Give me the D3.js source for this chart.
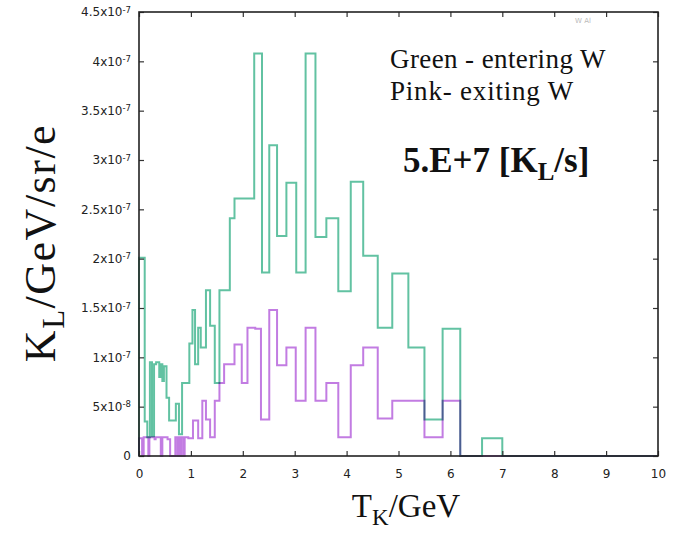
<!DOCTYPE html>
<html>
<head>
<meta charset="utf-8">
<script src="https://cdn.jsdelivr.net/npm/d3@7"></script>
<style>
  body { margin: 0; background: #fff; }
  .tick text { font-family: "DejaVu Sans", sans-serif; font-size: 12px; fill: #222; }
  .tick line { stroke: #333; stroke-width: 1.2; }
  .serif { font-family: "Liberation Serif", serif; fill: #111; }
</style>
</head>
<body>
<script>
// bin edges (GeV) and heights (x1e-7)
const greenEdges = [0, 0.11, 0.16, 0.21, 0.25, 0.29, 0.33, 0.39, 0.42, 0.45, 0.48, 0.53, 0.58, 0.71, 0.77, 0.83, 0.97, 1.03, 1.08, 1.14, 1.19, 1.29, 1.37, 1.46, 1.55, 1.75, 1.84, 2.22, 2.37, 2.51, 2.66, 2.84, 3.03, 3.21, 3.40, 3.61, 3.84, 4.08, 4.32, 4.60, 4.88, 5.19, 5.50, 5.85, 6.19, 6.61, 7.00];
const greenValues = [2.01, 0.35, 0.19, 0.95, 0.2, 0.93, 0.95, 0.80, 0.93, 0.76, 0.91, 0.59, 0.36, 0.53, 0.22, 0.74, 1.14, 1.48, 0.93, 1.30, 1.10, 1.68, 1.32, 0.74, 1.68, 2.41, 2.61, 4.08, 1.86, 3.15, 2.23, 2.77, 1.86, 4.08, 2.22, 2.41, 1.67, 2.78, 2.03, 1.30, 1.85, 1.10, 0.37, 1.29, 0, 0.18];

const pinkEdges = [0, 0.06, 0.09, 0.18, 0.2, 0.3, 0.32, 0.42, 0.45, 0.55, 0.6, 0.7, 0.74, 0.77, 0.8, 0.82, 0.86, 0.88, 0.95, 1.04, 1.14, 1.22, 1.29, 1.37, 1.46, 1.55, 1.64, 1.84, 1.98, 2.09, 2.24, 2.35, 2.51, 2.66, 2.84, 3.02, 3.21, 3.40, 3.61, 3.84, 4.08, 4.32, 4.60, 4.88, 5.50, 5.85, 6.19];
const pinkValues = [0.18, 0, 0.19, 0, 0.19, 0.17, 0.19, 0, 0.19, 0.17, 0, 0.19, 0, 0.19, 0, 0.19, 0, 0.19, 0.18, 0.36, 0.18, 0.56, 0.37, 0.19, 0.56, 0.74, 0.93, 1.13, 0.74, 1.30, 1.29, 0.37, 1.48, 0.92, 1.10, 0.56, 1.30, 0.56, 0.74, 0.19, 0.92, 1.10, 0.38, 0.56, 0.19, 0.56];

const xTicks = [0, 1, 2, 3, 4, 5, 6, 7, 8, 9, 10];
const yTicks = [0, 0.5, 1, 1.5, 2, 2.5, 3, 3.5, 4, 4.5];
const yTickMant = ["0", "5x10", "1x10", "1.5x10", "2x10", "2.5x10", "3x10", "3.5x10", "4x10", "4.5x10"];
const yTickExp = ["", "-8", "-7", "-7", "-7", "-7", "-7", "-7", "-7", "-7"];

const width = 673, height = 535;
const margin = {top: 12, right: 15, bottom: 79, left: 139};
const w = width - margin.left - margin.right;
const h = height - margin.top - margin.bottom;

const svg = d3.select("body").append("svg")
  .attr("width", width)
  .attr("height", height);

const g = svg.append("g")
  .attr("transform", `translate(${margin.left},${margin.top})`);

const xscale = d3.scaleLinear().domain([0, 10]).range([0, w]);
const yscale = d3.scaleLinear().domain([0, 4.5]).range([h, 0]);

function stepPoints(edges, values) {
  const pts = [[edges[0], 0]];
  values.forEach((v, i) => {
    pts.push([edges[i], v]);
    pts.push([edges[i + 1], v]);
  });
  pts.push([edges[edges.length - 1], 0]);
  pts.push([10, 0]);
  return pts;
}

const line = d3.line()
  .x(d => xscale(d[0]))
  .y(d => yscale(d[1]));

const plot = g.append("g").style("isolation", "isolate");

plot.append("path")
  .datum(stepPoints(greenEdges, greenValues))
  .attr("d", line)
  .attr("fill", "none")
  .attr("stroke", "#62c2a2")
  .attr("stroke-width", 2);

plot.append("path")
  .datum(stepPoints(pinkEdges, pinkValues))
  .attr("d", line)
  .attr("fill", "none")
  .attr("stroke", "#c27ce2")
  .attr("stroke-width", 2)
  .style("mix-blend-mode", "multiply");

// axes, gnuplot style: inward ticks on all four sides
g.append("g")
  .attr("transform", `translate(0,${h})`)
  .call(d3.axisBottom(xscale).tickValues(xTicks).tickSizeInner(-5).tickSizeOuter(0).tickPadding(13))
  .call(a => a.select(".domain").remove());

g.append("g")
  .call(d3.axisTop(xscale).tickValues(xTicks).tickSizeInner(-5).tickSizeOuter(0).tickFormat(""))
  .call(a => a.select(".domain").remove());

g.append("g")
  .attr("transform", `translate(${w},0)`)
  .call(d3.axisRight(yscale).tickValues(yTicks).tickSizeInner(-5).tickSizeOuter(0).tickFormat(""))
  .call(a => a.select(".domain").remove());

const yaxis = g.append("g")
  .call(d3.axisLeft(yscale).tickValues(yTicks).tickSizeInner(-5).tickSizeOuter(0).tickPadding(8).tickFormat(""))
  .call(a => a.select(".domain").remove());

yaxis.selectAll(".tick text").each(function(d, i) {
  const t = d3.select(this);
  t.append("tspan").text(yTickMant[i]);
  if (yTickExp[i]) {
    t.append("tspan").attr("dy", "-0.45em").style("font-size", "8.5px").text(yTickExp[i]);
  }
});

g.append("rect")
  .attr("width", w)
  .attr("height", h)
  .attr("fill", "none")
  .attr("stroke", "#222")
  .attr("stroke-width", 1.6);

// faint leftover text in the corner
g.append("text")
  .attr("x", 436)
  .attr("y", 11)
  .attr("font-family", "DejaVu Sans")
  .attr("font-size", 7)
  .attr("fill", "#bbb")
  .text("W Al");

// annotations
const note = svg.append("g").attr("class", "serif");
note.append("text").attr("x", 390).attr("y", 68).attr("font-size", 27)
  .attr("letter-spacing", 0.4).text("Green - entering W");
note.append("text").attr("x", 390).attr("y", 100).attr("font-size", 27)
  .attr("letter-spacing", 0.8).text("Pink- exiting W");

const big = note.append("text").attr("x", 403).attr("y", 172)
  .attr("font-size", 35).attr("font-weight", "bold");
big.append("tspan").text("5.E+7 [K");
big.append("tspan").attr("dy", 8).attr("font-size", 25).text("L");
big.append("tspan").attr("dy", -8).text("/s]");

// axis titles
const xt = svg.append("text").attr("class", "serif")
  .attr("x", 406).attr("y", 517)
  .attr("text-anchor", "middle")
  .attr("font-size", 33);
xt.append("tspan").text("T");
xt.append("tspan").attr("dy", 8).attr("font-size", 23).text("K");
xt.append("tspan").attr("dy", -8).text("/GeV");

const yt = svg.append("text").attr("class", "serif")
  .attr("transform", "translate(55,243) rotate(-90)")
  .attr("text-anchor", "middle")
  .attr("font-size", 44)
  .attr("letter-spacing", 1.5);
yt.append("tspan").text("K");
yt.append("tspan").attr("dy", 9).attr("font-size", 31).text("L");
yt.append("tspan").attr("dy", -9).text("/GeV/sr/e");
</script>
</body>
</html>
